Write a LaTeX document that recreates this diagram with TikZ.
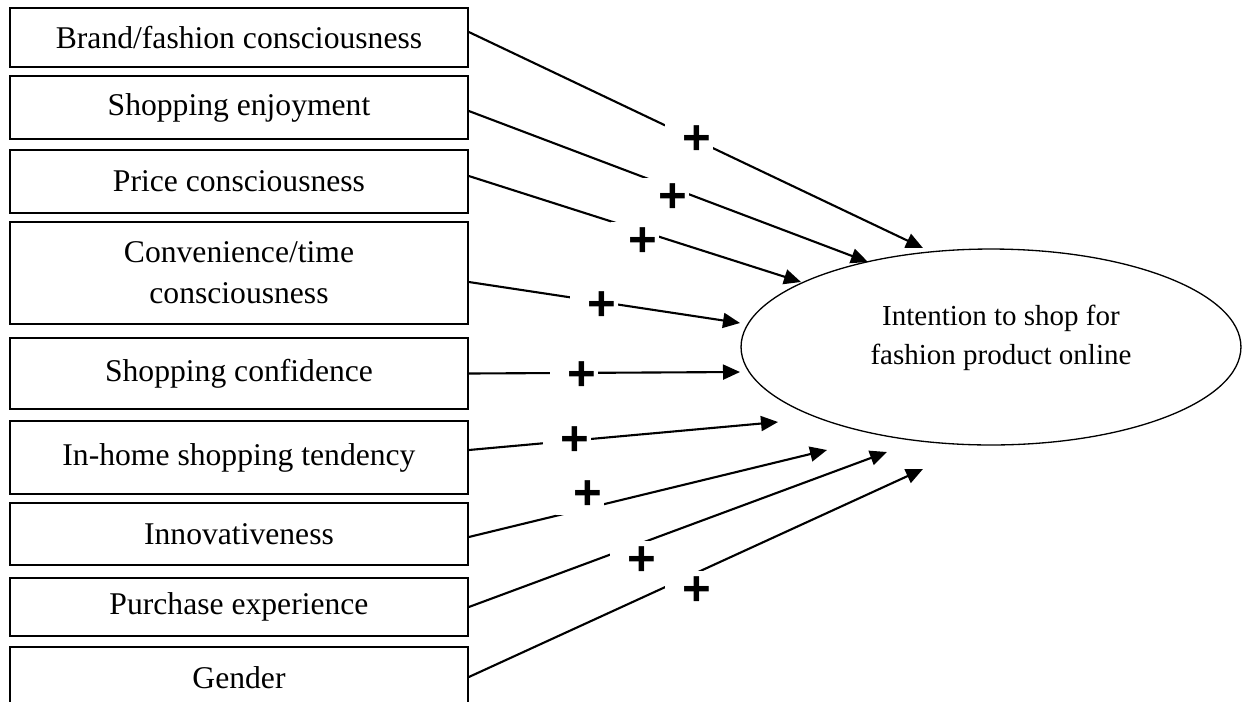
\documentclass[tikz,border=0pt]{standalone}
\usepackage{fontspec}
\setmainfont{Liberation Serif}
\newfontfamily\plusfont{Liberation Sans}
\usetikzlibrary{shapes.geometric,arrows.meta}

\begin{document}
\begin{tikzpicture}[x=0.02cm, y=-0.02cm, font=\fontsize{18}{23.5}\selectfont,
  factor/.style={draw, line width=1pt, minimum width=9.16cm, inner sep=0pt, align=center},
  effect/.style={-{Triangle[length=0.34cm, width=0.3cm]}, line width=1.2pt},
  plus/.style={fill=white, inner sep=0pt, minimum width=0.96cm, minimum height=0.8cm,
               yshift=-0.06cm, font=\plusfont\bfseries\fontsize{28}{28}\selectfont}]

\useasboundingbox (0,0) rectangle (1242,701);

% antecedents
\node[factor, minimum height=1.18cm] (brand) at (239,37.5) {Brand/fashion consciousness};
\node[factor, minimum height=1.26cm] (enjoy) at (239,107.5) {Shopping enjoyment};
\node[factor, minimum height=1.26cm] (price) at (239,181.5) {Price consciousness};
\node[factor, minimum height=2.04cm] (conv) at (239,273) {Convenience/time\\consciousness};
\node[factor, minimum height=1.42cm] (confid) at (239,373.5) {Shopping confidence};
\node[factor, minimum height=1.46cm] (inhome) at (239,457.5) {In-home shopping tendency};
\node[factor, minimum height=1.24cm] (innov) at (239,534) {Innovativeness};
\node[factor, minimum height=1.16cm] (purch) at (239,607) {Purchase experience};
\node[factor, minimum height=1.24cm] (gender) at (239,678) {Gender};

% outcome
\node[draw, ellipse, line width=0.75pt, minimum width=10cm, minimum height=3.92cm, inner sep=0pt] (intent) at (991,347) {};
\node[align=center, font=\fontsize{16.5}{21.8}\selectfont] (intenttext) at (1001,338) {Intention to shop for\\fashion product online};

\coordinate (t1) at (923,248);
\coordinate (t2) at (868,262);
\coordinate (t3) at (801,282);
\coordinate (t4) at (740,323);
\coordinate (t5) at (740,372);
\coordinate (t6) at (778,422);
\coordinate (t7) at (827,450);
\coordinate (t8) at (887,452);
\coordinate (t9) at (923,469);

\draw[effect] ([yshift=0.11cm]brand.east) -- (t1);
\draw[effect] ([yshift=-0.07cm]enjoy.east) -- (t2);
\draw[effect] ([yshift=0.11cm]price.east) -- (t3);
\draw[effect] ([yshift=-0.18cm]conv.east) -- (t4);
\draw[effect] (confid.east) -- (t5);
\draw[effect] ([yshift=0.15cm]inhome.east) -- (t6);
\draw[effect] ([yshift=-0.06cm]innov.east) -- (t7);
\draw[effect] (purch.east) -- (t8);
\draw[effect] ([yshift=0.02cm]gender.east) -- (t9);

% signs
\node[plus] (p1) at (689,137) {\hspace*{0.3cm}+};
\node[plus] (p2) at (665,195) {\hspace*{0.3cm}+};
\node[plus] (p3) at (635,239) {\hspace*{0.3cm}+};
\node[plus] (p4) at (594,303) {\hspace*{0.3cm}+};
\node[plus] (p5) at (574,373) {\hspace*{0.3cm}+};
\node[plus] (p6) at (567,438) {\hspace*{0.3cm}+};
\node[plus] (p7) at (580,492) {\hspace*{0.3cm}+};
\node[plus] (p8) at (634,558) {\hspace*{0.3cm}+};
\node[plus] (p9) at (689,588) {\hspace*{0.3cm}+};

\end{tikzpicture}
\end{document}
